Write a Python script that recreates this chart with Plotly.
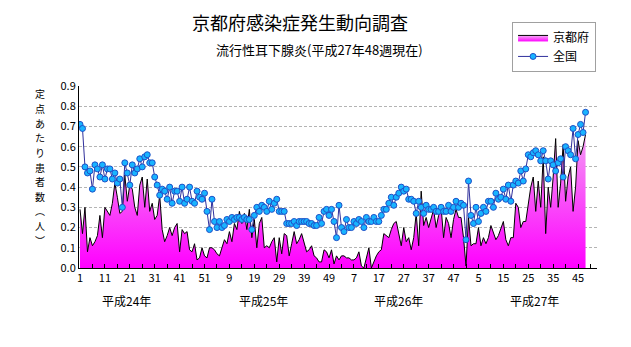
import plotly.graph_objects as go

# ---- data ----
year_labels = ["平成24年", "平成25年", "平成26年", "平成27年"]
weeks_per_year = [52, 52, 52, 48]

kyoto_2012 = [0.29, 0.17, 0.30, 0.08, 0.15, 0.11, 0.13, 0.16, 0.26, 0.15,
              0.30, 0.28, 0.26, 0.32, 0.42, 0.35, 0.27, 0.28, 0.46, 0.33,
              0.41, 0.39, 0.30, 0.26, 0.41, 0.45, 0.30, 0.44, 0.28, 0.32,
              0.24, 0.26, 0.36, 0.19, 0.13, 0.16, 0.20, 0.16, 0.20, 0.22,
              0.08, 0.19, 0.17, 0.18, 0.09, 0.08, 0.12, 0.04, 0.05, 0.10,
              0.06, 0.05]
kyoto_2013 = [0.10, 0.10, 0.09, 0.07, 0.06, 0.10, 0.14, 0.12, 0.18, 0.13,
              0.22, 0.19, 0.28, 0.22, 0.27, 0.19, 0.29, 0.15, 0.24, 0.10,
              0.22, 0.25, 0.10, 0.11, 0.10, 0.13, 0.15, 0.03, 0.15, 0.07,
              0.17, 0.16, 0.06, 0.12, 0.18, 0.12, 0.14, 0.17, 0.12, 0.08,
              0.09, 0.11, 0.06, 0.05, 0.03, 0.03, 0.09, 0.08, 0.05, 0.09,
              0.02, 0.06]
kyoto_2014 = [0.04, 0.06, 0.06, 0.05, 0.05, 0.04, 0.04, 0.05, 0.08, 0.01,
              0.00, 0.05, 0.10, 0.00, 0.03, 0.06, 0.08, 0.09, 0.17, 0.16,
              0.15, 0.19, 0.22, 0.23, 0.16, 0.11, 0.20, 0.13, 0.15, 0.09,
              0.15, 0.27, 0.11, 0.38, 0.21, 0.25, 0.20, 0.24, 0.29, 0.20,
              0.26, 0.30, 0.15, 0.25, 0.22, 0.15, 0.24, 0.29, 0.25, 0.25,
              0.15, 0.01]
kyoto_2015 = [0.25, 0.11, 0.12, 0.12, 0.20, 0.11, 0.15, 0.12, 0.15, 0.21,
              0.17, 0.14, 0.16, 0.20, 0.23, 0.14, 0.11, 0.15, 0.15, 0.32,
              0.30, 0.20, 0.23, 0.23, 0.33, 0.40, 0.45, 0.28, 0.43, 0.30,
              0.55, 0.17, 0.40, 0.30, 0.45, 0.64, 0.30, 0.42, 0.61, 0.33,
              0.45, 0.50, 0.28, 0.40, 0.63, 0.56, 0.60, 0.66]

national_2012 = [0.71, 0.69, 0.50, 0.47, 0.48, 0.39, 0.51, 0.49, 0.45, 0.51,
                 0.44, 0.49, 0.49, 0.44, 0.47, 0.42, 0.44, 0.30, 0.52, 0.47,
                 0.41, 0.51, 0.47, 0.49, 0.54, 0.50, 0.55, 0.56, 0.52, 0.52,
                 0.45, 0.41, 0.36, 0.39, 0.38, 0.34, 0.40, 0.32, 0.38, 0.38,
                 0.33, 0.40, 0.32, 0.34, 0.40, 0.33, 0.32, 0.38, 0.35, 0.34,
                 0.37, 0.28]
national_2013 = [0.19, 0.34, 0.23, 0.20, 0.23, 0.20, 0.21, 0.24, 0.23, 0.25,
                 0.24, 0.25, 0.25, 0.24, 0.25, 0.24, 0.24, 0.19, 0.26, 0.30,
                 0.28, 0.31, 0.30, 0.28, 0.33, 0.29, 0.32, 0.34, 0.28, 0.28,
                 0.28, 0.22, 0.22, 0.22, 0.23, 0.21, 0.23, 0.23, 0.23, 0.23,
                 0.22, 0.22, 0.21, 0.21, 0.25, 0.22, 0.28, 0.29, 0.26, 0.29,
                 0.23, 0.15]
national_2014 = [0.31, 0.20, 0.18, 0.24, 0.20, 0.20, 0.23, 0.22, 0.24, 0.23,
                 0.20, 0.25, 0.23, 0.23, 0.25, 0.23, 0.23, 0.26, 0.29, 0.29,
                 0.32, 0.35, 0.31, 0.35, 0.37, 0.40, 0.38, 0.39, 0.34, 0.34,
                 0.33, 0.27, 0.33, 0.30, 0.27, 0.31, 0.29, 0.29, 0.30, 0.28,
                 0.28, 0.30, 0.28, 0.28, 0.31, 0.28, 0.30, 0.33, 0.30, 0.32,
                 0.31, 0.14]
national_2015 = [0.43, 0.26, 0.22, 0.30, 0.23, 0.27, 0.30, 0.28, 0.33, 0.33,
                 0.30, 0.37, 0.34, 0.35, 0.39, 0.34, 0.41, 0.33, 0.41, 0.43,
                 0.42, 0.48, 0.43, 0.49, 0.56, 0.55, 0.57, 0.58, 0.56, 0.53,
                 0.58, 0.53, 0.44, 0.53, 0.51, 0.48, 0.52, 0.54, 0.45, 0.60,
                 0.58, 0.56, 0.69, 0.54, 0.66, 0.71, 0.67, 0.77]

y_ticks = [0.0, 0.1, 0.2, 0.3, 0.4, 0.5, 0.6, 0.7, 0.8, 0.9]
y_title_chars = ["定", "点", "あ", "た", "り", "患", "者", "数", "︵", "人", "︶"]

# ---- build series ----
weeks = []
for n in weeks_per_year:
    weeks += list(range(1, n + 1))
x = list(range(len(weeks)))
kyoto = kyoto_2012 + kyoto_2013 + kyoto_2014 + kyoto_2015
national = national_2012 + national_2013 + national_2014 + national_2015
tickvals = x[::10]
ticktext = [str(weeks[i]) for i in tickvals]

JP = "Noto Sans CJK JP"

fig = go.Figure()
fig.add_trace(go.Scatter(
    x=x, y=kyoto, name="京都府", mode="lines",
    line=dict(color="black", width=1),
    fill="tozeroy",
    fillgradient=dict(type="vertical", start=0, stop=0.75,
                      colorscale=[[0, "#ff00ff"], [1, "#f2b0f2"]]),
))
fig.add_trace(go.Scatter(
    x=x, y=national, name="全国", mode="lines+markers",
    line=dict(color="#30309c", width=1),
    marker=dict(size=6, color="#18b4ff", line=dict(color="#1e50c8", width=1)),
))

annotations = [
    dict(text="京都府感染症発生動向調査", xref="paper", yref="paper",
         x=0.427, y=1.352, xanchor="center", yanchor="middle", showarrow=False,
         font=dict(family=JP, size=18, color="black")),
    dict(text="流行性耳下腺炎(平成27年48週現在)", xref="paper", yref="paper",
         x=0.465, y=1.198, xanchor="center", yanchor="middle", showarrow=False,
         font=dict(family=JP, size=13, color="black")),
]
# vertical axis title, one character per annotation (pixel rows in the 347px page)
for i, ch in enumerate(y_title_chars):
    row = 94 + 14.6 * i
    annotations.append(dict(text=ch, xref="paper", yref="paper",
                            x=-0.075, y=(268 - row) / 182,
                            xanchor="center", yanchor="middle", showarrow=False,
                            borderpad=0,
                            font=dict(family=JP, size=10, color="black")))
year_pos = [18.5, 73.5, 127.7, 182.7]
for lbl, px in zip(year_labels, year_pos):
    annotations.append(dict(text=lbl, xref="x", yref="paper", x=px, y=-0.176,
                            xanchor="center", yanchor="middle", showarrow=False,
                            font=dict(family=JP, size=12, color="black")))

fig.update_layout(
    width=631, height=347,
    margin=dict(l=79, r=34, t=86, b=79),
    paper_bgcolor="white", plot_bgcolor="white",
    font=dict(family=JP, size=11, color="black"),
    showlegend=True,
    legend=dict(x=0.836, y=1.352, xanchor="left", yanchor="top",
                bordercolor="#a0a0a0", borderwidth=1, bgcolor="white",
                font=dict(family=JP, size=12), tracegroupgap=0,
                itemwidth=30),
    annotations=annotations,
)
fig.update_xaxes(
    range=[-0.4, 207.6], tickvals=tickvals, ticktext=ticktext,
    ticks="inside", ticklen=4, tickcolor="black",
    minor=dict(dtick=5, tick0=0, ticks="inside", ticklen=4, tickcolor="black"),
    showline=True, linecolor="black", linewidth=1,
    showgrid=False, zeroline=False,
    tickfont=dict(family=JP, size=11),
)
fig.update_yaxes(
    range=[0, 0.9], tickvals=y_ticks, ticktext=[f"{v:.1f}" for v in y_ticks],
    showline=True, linecolor="black", linewidth=1,
    showgrid=True, gridcolor="#b4b4b4", griddash="3px,2px", gridwidth=1,
    zeroline=False, ticks="", tickfont=dict(family=JP, size=11),
)

fig.write_html("out.html")
